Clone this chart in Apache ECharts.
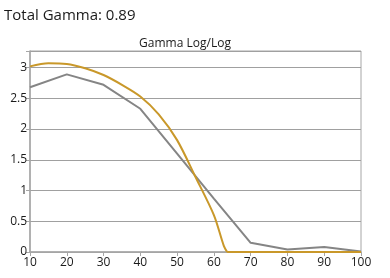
<!DOCTYPE html>
<html>
<head>
<meta charset="utf-8">
<script src="https://cdn.jsdelivr.net/npm/echarts@6/dist/echarts.min.js"></script>
<style>
  html, body { margin: 0; padding: 0; background: #fff; }
  #chart { width: 390px; height: 278px; }
</style>
</head>
<body>
<div id="chart"></div>
<script>
// gray series: measured gamma at each stimulus level
var grayX = [10, 20, 30, 40, 50, 60, 70, 80, 90, 100]
var grayY = [2.68, 2.89, 2.72, 2.33, 1.6, 0.87, 0.15, 0.04, 0.08, 0.01]

// gold series: smooth curve down to the knee, then flat at zero
var goldX = [10, 15, 20, 25, 30, 35, 40, 45, 50, 55, 60, 62.7, 63.6]
var goldY = [3.02, 3.07, 3.06, 2.99, 2.88, 2.72, 2.53, 2.24, 1.82, 1.22, 0.6, 0.1, 0]
var goldFlatX = [63.6, 100]
var goldFlatY = [0, 0]

var xTicks = [10, 20, 30, 40, 50, 60, 70, 80, 90, 100]
var yTicks = [0, 0.5, 1, 1.5, 2, 2.5, 3]

function pairs(xs, ys) {
  return xs.map(function (x, i) { return [x, ys[i]] })
}

var myChart = echarts.init(document.getElementById('chart'), null, { renderer: 'canvas' })

var option = {
  animation: false,
  textStyle: {
    fontFamily: 'Open Sans, sans-serif'
  },
  title: [
    {
      text: 'Total Gamma: 0.89',
      left: 4,
      top: 8,
      padding: 0,
      textStyle: { fontSize: 15, fontWeight: 'normal', color: '#1a1a1a' }
    },
    {
      text: 'Gamma Log/Log',
      left: 185,
      textAlign: 'center',
      top: 38,
      padding: 0,
      textStyle: { fontSize: 12, fontWeight: 'normal', color: '#1a1a1a' }
    }
  ],
  grid: {
    left: 30,
    right: 29,
    top: 51,
    bottom: 26,
    show: true,
    borderColor: '#a6a6a6',
    borderWidth: 1
  },
  xAxis: {
    type: 'value',
    min: 10,
    max: 100,
    interval: 10,
    axisLine: { show: true, lineStyle: { color: '#a6a6a6', width: 1.5 } },
    axisTick: { show: true, length: 4, lineStyle: { color: '#a6a6a6' } },
    splitLine: { show: false },
    axisLabel: {
      color: '#1a1a1a',
      fontSize: 12,
      margin: 5,
      formatter: function (v) { return xTicks.indexOf(v) >= 0 ? String(v) : '' }
    }
  },
  yAxis: {
    type: 'value',
    min: 0,
    max: 3.27,
    interval: 0.5,
    axisLine: { show: true, lineStyle: { color: '#a6a6a6', width: 1.5 } },
    axisTick: { show: true, length: 4, lineStyle: { color: '#a6a6a6' } },
    splitLine: { show: true, lineStyle: { color: '#a0a0a0', width: 1 } },
    axisLabel: {
      color: '#1a1a1a',
      fontSize: 12,
      margin: 3,
      formatter: function (v) { return yTicks.indexOf(v) >= 0 ? String(v) : '' }
    }
  },
  series: [
    {
      name: 'gray',
      type: 'line',
      data: pairs(grayX, grayY),
      showSymbol: false,
      lineStyle: { color: '#858585', width: 2 },
      z: 2
    },
    {
      name: 'gold',
      type: 'line',
      data: pairs(goldX, goldY),
      smooth: 0.3,
      showSymbol: false,
      lineStyle: { color: '#c9982a', width: 2 },
      z: 3
    },
    {
      name: 'gold flat',
      type: 'line',
      data: pairs(goldFlatX, goldFlatY),
      showSymbol: false,
      lineStyle: { color: '#c9982a', width: 2 },
      z: 3
    }
  ]
}
myChart.setOption(option, true)
</script>
</body>
</html>
